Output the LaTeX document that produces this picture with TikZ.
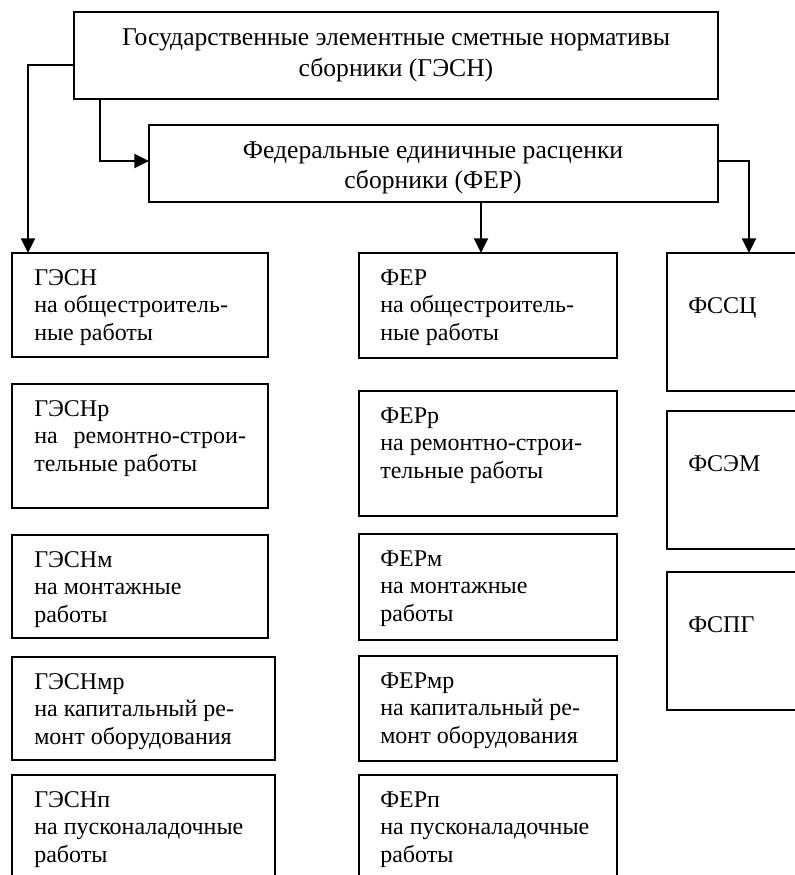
\documentclass[tikz,border=0pt]{standalone}
\usepackage{fontspec}
\setmainfont{Liberation Serif}
\usetikzlibrary{arrows.meta,calc}
\newcommand\mybox[5]{\node[box, minimum width={(#4-#2)*0.75pt}, minimum height={(#5-#3)*0.75pt}] (#1) at (#2,#3) {};}
\begin{document}
\begin{tikzpicture}[x=0.75pt,y=-0.75pt,
  box/.style={draw=black, line width=1.4pt, rectangle, inner sep=0pt, outer sep=0pt, anchor=north west},
  lbl/.style={anchor=base west, align=left, inner sep=0pt, font=\fontsize{18}{20.6}\selectfont},
  hdr/.style={anchor=base, align=center, inner sep=0pt},
  arr/.style={line width=1.4pt, -{Triangle[length=11pt,width=10.5pt]}}]
\useasboundingbox (0,0) rectangle (795,875);
\fill[white] (0,0) rectangle (795,875);
\clip (0,0) rectangle (795,875);
% header boxes
\mybox{top}{74}{12}{718}{99}
\mybox{fer}{149}{125}{718}{202}
\node[hdr, font=\fontsize{19.2}{23.25}\selectfont] (ttop) at (396,76) {Государственные элементные сметные нормативы\\сборники (ГЭСН)};
\node[hdr, font=\fontsize{19.2}{22.5}\selectfont] (tfer) at (433,188) {Федеральные единичные расценки\\сборники (ФЕР)};
% left column
\mybox{g1}{12}{253}{268}{357}
\mybox{g2}{12}{384}{268}{508}
\mybox{g3}{12}{535}{268}{638}
\mybox{g4}{12}{657}{275}{760}
\mybox{g5}{12}{775}{275}{900}
\node[lbl] (tg1) at (34,340) {ГЭСН\\на общестроитель-\\ные работы};
\node[lbl] (tg2) at (34,471) {ГЭСНр\\на\hspace{12pt}ремонтно-строи-\\тельные работы};
\node[lbl] (tg3) at (34,622) {ГЭСНм\\на монтажные\\работы};
\node[lbl] (tg4) at (34,744) {ГЭСНмр\\на капитальный ре-\\монт оборудования};
\node[lbl] (tg5) at (34,862) {ГЭСНп\\на пусконаладочные\\работы};
% middle column
\mybox{f1}{359}{253}{617}{358}
\mybox{f2}{359}{391}{617}{516}
\mybox{f3}{359}{534}{617}{640}
\mybox{f4}{359}{656}{617}{761}
\mybox{f5}{359}{775}{617}{900}
\node[lbl] (tf1) at (380,340) {ФЕР\\на общестроитель-\\ные работы};
\node[lbl] (tf2) at (380,478) {ФЕРр\\на ремонтно-строи-\\тельные работы};
\node[lbl] (tf3) at (380,621) {ФЕРм\\на монтажные\\работы};
\node[lbl] (tf4) at (380,743) {ФЕРмр\\на капитальный ре-\\монт оборудования};
\node[lbl] (tf5) at (380,862) {ФЕРп\\на пусконаладочные\\работы};
% right column
\mybox{s1}{667}{253}{830}{391}
\mybox{s2}{667}{411}{830}{549}
\mybox{s3}{667}{572}{830}{710}
\node[lbl] (ts1) at (688,313) {ФССЦ};
\node[lbl] (ts2) at (688,471) {ФСЭМ};
\node[lbl] (ts3) at (688,632) {ФСПГ};
% connectors
\coordinate (c1) at (28,65);
\coordinate (c2) at (100,161);
\coordinate (c3) at (481,230);
\coordinate (c4) at (749,161);
\draw[arr] (c1 -| top.west) -- (c1) -- (c1 |- g1.north);
\draw[arr] (c2 |- top.south) -- (c2) -- (c2 -| fer.west);
\draw[arr] (c3 |- fer.south) -- (c3 |- f1.north);
\draw[arr] (c4 -| fer.east) -- (c4) -- (c4 |- s1.north);
\end{tikzpicture}
\end{document}
